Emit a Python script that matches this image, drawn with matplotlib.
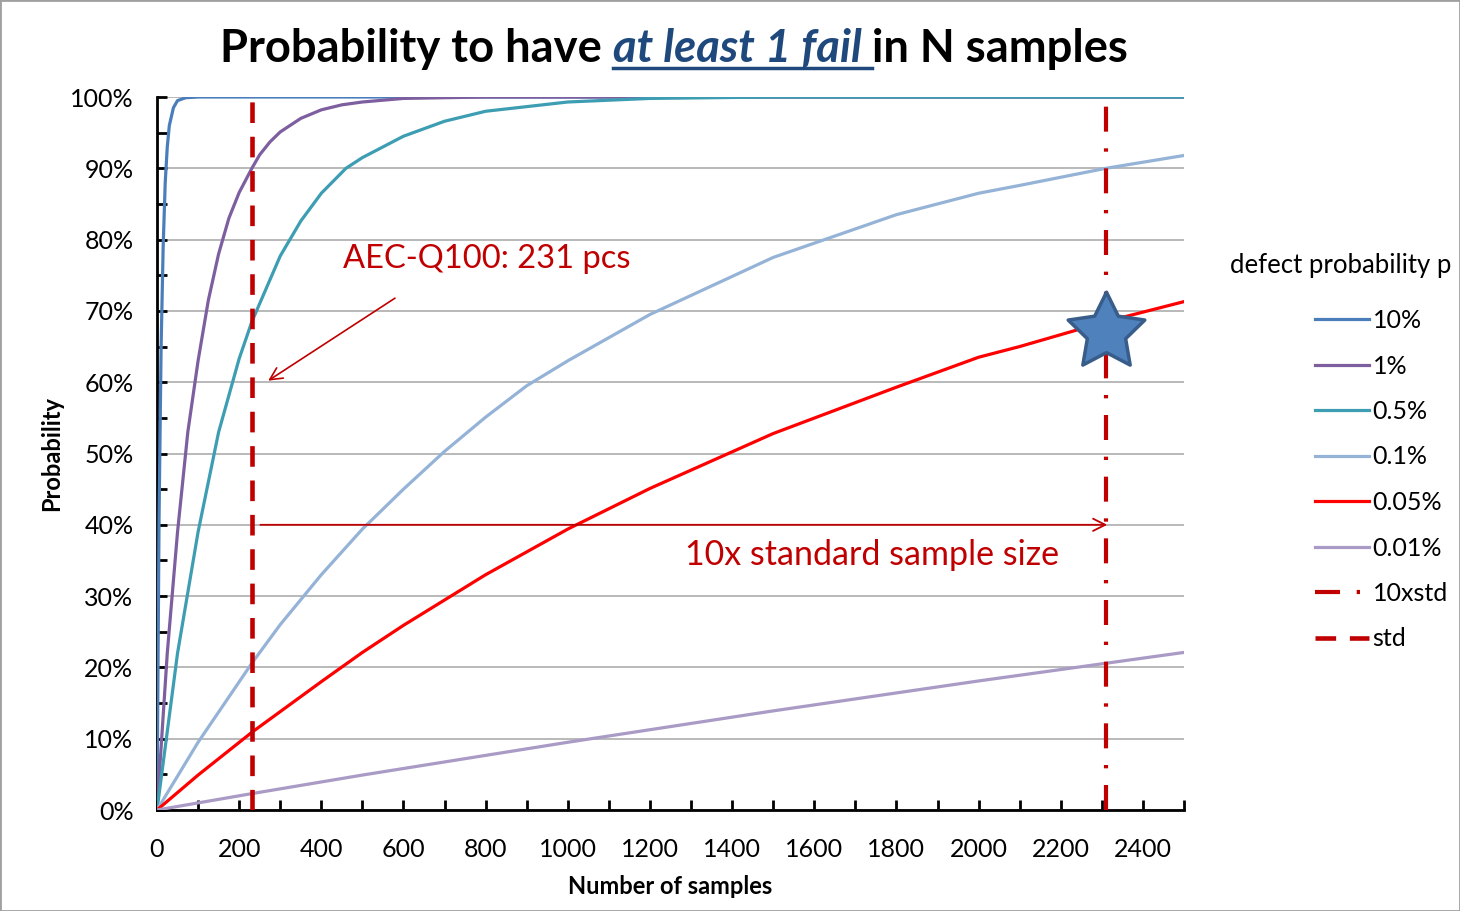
import numpy as np
import matplotlib
matplotlib.use('Agg')
import matplotlib.pyplot as plt
from matplotlib.path import Path
from matplotlib.lines import Line2D

plt.rcParams['font.family'] = ['Lato', 'DejaVu Sans']

# values (N samples -> probability)
n_10 = [0, 5, 10, 15, 20, 25, 30, 40, 50, 70, 100, 2500]
p_10 = [0, 0.41, 0.65, 0.79, 0.88, 0.93, 0.96, 0.985, 0.995, 0.999, 1.0, 1.0]

n_1 = [0, 25, 50, 75, 100, 125, 150, 175, 200, 231, 250, 275, 300, 350, 400, 450, 500, 600, 700, 800, 2500]
p_1 = [0, 0.22, 0.39, 0.53, 0.63, 0.715, 0.78, 0.83, 0.866, 0.90, 0.919, 0.937, 0.951, 0.970, 0.982, 0.989, 0.993, 0.998, 0.999, 1.0, 1.0]

n_05 = [0, 50, 100, 150, 200, 231, 300, 350, 400, 460, 500, 600, 700, 800, 1000, 1200, 1500, 2500]
p_05 = [0, 0.22, 0.39, 0.53, 0.633, 0.685, 0.777, 0.826, 0.865, 0.90, 0.915, 0.945, 0.966, 0.980, 0.993, 0.998, 1.0, 1.0]

n_01 = [0, 100, 231, 300, 400, 500, 600, 700, 800, 900, 1000, 1200, 1500, 1800, 2000, 2100, 2310, 2500]
p_01 = [0, 0.095, 0.206, 0.26, 0.33, 0.394, 0.45, 0.503, 0.551, 0.595, 0.63, 0.695, 0.775, 0.835, 0.865, 0.876, 0.90, 0.918]

n_005 = [0, 100, 231, 400, 500, 600, 800, 900, 1000, 1200, 1500, 1800, 2000, 2100, 2310, 2500]
p_005 = [0, 0.049, 0.109, 0.18, 0.221, 0.259, 0.33, 0.362, 0.394, 0.451, 0.528, 0.593, 0.635, 0.65, 0.685, 0.713]

n_001 = [0, 231, 500, 1000, 1500, 2000, 2500]
p_001 = [0, 0.023, 0.049, 0.095, 0.139, 0.181, 0.221]

series_labels = ['10%', '1%', '0.5%', '0.1%', '0.05%', '0.01%']
series_colors = ['#4a7ebb', '#7d5fa0', '#3d9db3', '#95b3d7', '#ff0000', '#a99bc5']

std_n = 231
tenx_std_n = 2310
star_y = 0.67
arrow_y = 0.40

fig = plt.figure(figsize=(14.6, 9.11), dpi=100)
ax = fig.add_axes([157/1460, 1 - 810/911, (1184-157)/1460, (810-97)/911])

xs = [n_10, n_1, n_05, n_01, n_005, n_001]
ys = [p_10, p_1, p_05, p_01, p_005, p_001]
handles = []
for x, y, lab, c in zip(xs, ys, series_labels, series_colors):
    h, = ax.plot(x, y, color=c, lw=2.3, label=lab, zorder=3)
    handles.append(h)

red = '#c00000'
h10, = ax.plot([tenx_std_n, tenx_std_n], [0, 1], color=red, lw=3,
               dashes=(6, 4, 0.8, 4), label='10xstd', zorder=4)
hstd, = ax.plot([std_n, std_n], [0, 1], color=red, lw=3.3,
                dashes=(4.5, 3), label='std', zorder=4)
handles += [h10, hstd]

# star marker (fat five pointed star)
ang = np.pi/2 + np.arange(10) * np.pi/5
rad = np.where(np.arange(10) % 2 == 0, 1.0, 0.5)
verts = np.column_stack([rad*np.cos(ang), rad*np.sin(ang)])
verts = np.vstack([verts, verts[0]])
star = Path(verts, [Path.MOVETO] + [Path.LINETO]*9 + [Path.CLOSEPOLY])
ax.plot([tenx_std_n], [star_y], marker=star, markersize=58, color='#4f81bd',
        markeredgecolor='#385d8a', markeredgewidth=2.5, zorder=6)

ax.set_xlim(0, 2500)
ax.set_ylim(0, 1)
ax.set_xticks(np.arange(0, 2401, 200))
ax.set_xticks(np.arange(0, 2501, 100), minor=True)
ax.set_yticks(np.arange(0, 1.01, 0.1))
ax.set_yticks(np.arange(0, 1.01, 0.05), minor=True)
ax.set_yticklabels(['%d%%' % v for v in range(0, 101, 10)])
ax.yaxis.grid(True, color='#a6a6a6', lw=1.1)
ax.set_axisbelow(True)
for s in ['top', 'right']:
    ax.spines[s].set_visible(False)
for s in ['left', 'bottom']:
    ax.spines[s].set_linewidth(2)
ax.tick_params(which='both', direction='in', width=2, length=7, labelsize=18,
               colors='black')
ax.tick_params(axis='y', pad=17)
ax.tick_params(axis='x', pad=20)
ax.set_xlabel('Number of samples', fontsize=17, fontweight='bold', labelpad=10)
ax.set_ylabel('Probability', fontsize=17, fontweight='bold', labelpad=5)

# annotations
ax.text(803, 0.773, 'AEC-Q100: 231 pcs', color=red, fontsize=23.5, ha='center', va='center')
ax.annotate('', xy=(265, 0.60), xytext=(585, 0.72),
            arrowprops=dict(arrowstyle='->', color=red, lw=1.2, mutation_scale=22))
ax.annotate('', xy=(2320, arrow_y), xytext=(245, arrow_y),
            arrowprops=dict(arrowstyle='->', color=red, lw=1.3, mutation_scale=22))
ax.text(1740, 0.358, '10x standard sample size', color=red, fontsize=24.5,
        ha='center', va='center')

fig.text(1230/1460, 1 - 265/911, 'defect probability p', fontsize=18.5, va='center', ha='left')
fig.legend(handles=handles, loc='upper left', bbox_to_anchor=(1305/1460, 1 - 299/911),
           frameon=False, fontsize=18, handlelength=2.15, handletextpad=0.15,
           labelspacing=0.9, borderaxespad=0)

# title made of three runs, the middle one underlined
parts = [('Probability to have ', 'normal', 'black'),
         ('at least 1 fail ', 'italic', '#1f497d'),
         ('in N samples', 'normal', 'black')]
tsize = 32.7
fig.canvas.draw()
r = fig.canvas.get_renderer()
texts = []
for s, st, c in parts:
    t = fig.text(0, 1 - 62/911, s, fontsize=tsize, fontweight='bold', style=st,
                 color=c, va='baseline', ha='left')
    texts.append(t)
widths = [t.get_window_extent(r).width for t in texts]
total = sum(widths)
x0 = 674 - total/2
for t, w in zip(texts, widths):
    t.set_x(x0/1460)
    x0 += w
bb = texts[1].get_window_extent(r)
fig.add_artist(Line2D([bb.x0/1460, bb.x1/1460], [1 - 68/911, 1 - 68/911],
                      color='#1f497d', lw=2.5))

# thin frame around the picture
fig.add_artist(plt.Rectangle((0, 0), 1, 1, transform=fig.transFigure, fill=False,
                             ec='#a0a0a0', lw=2))

fig.savefig('out.png', dpi=100)
